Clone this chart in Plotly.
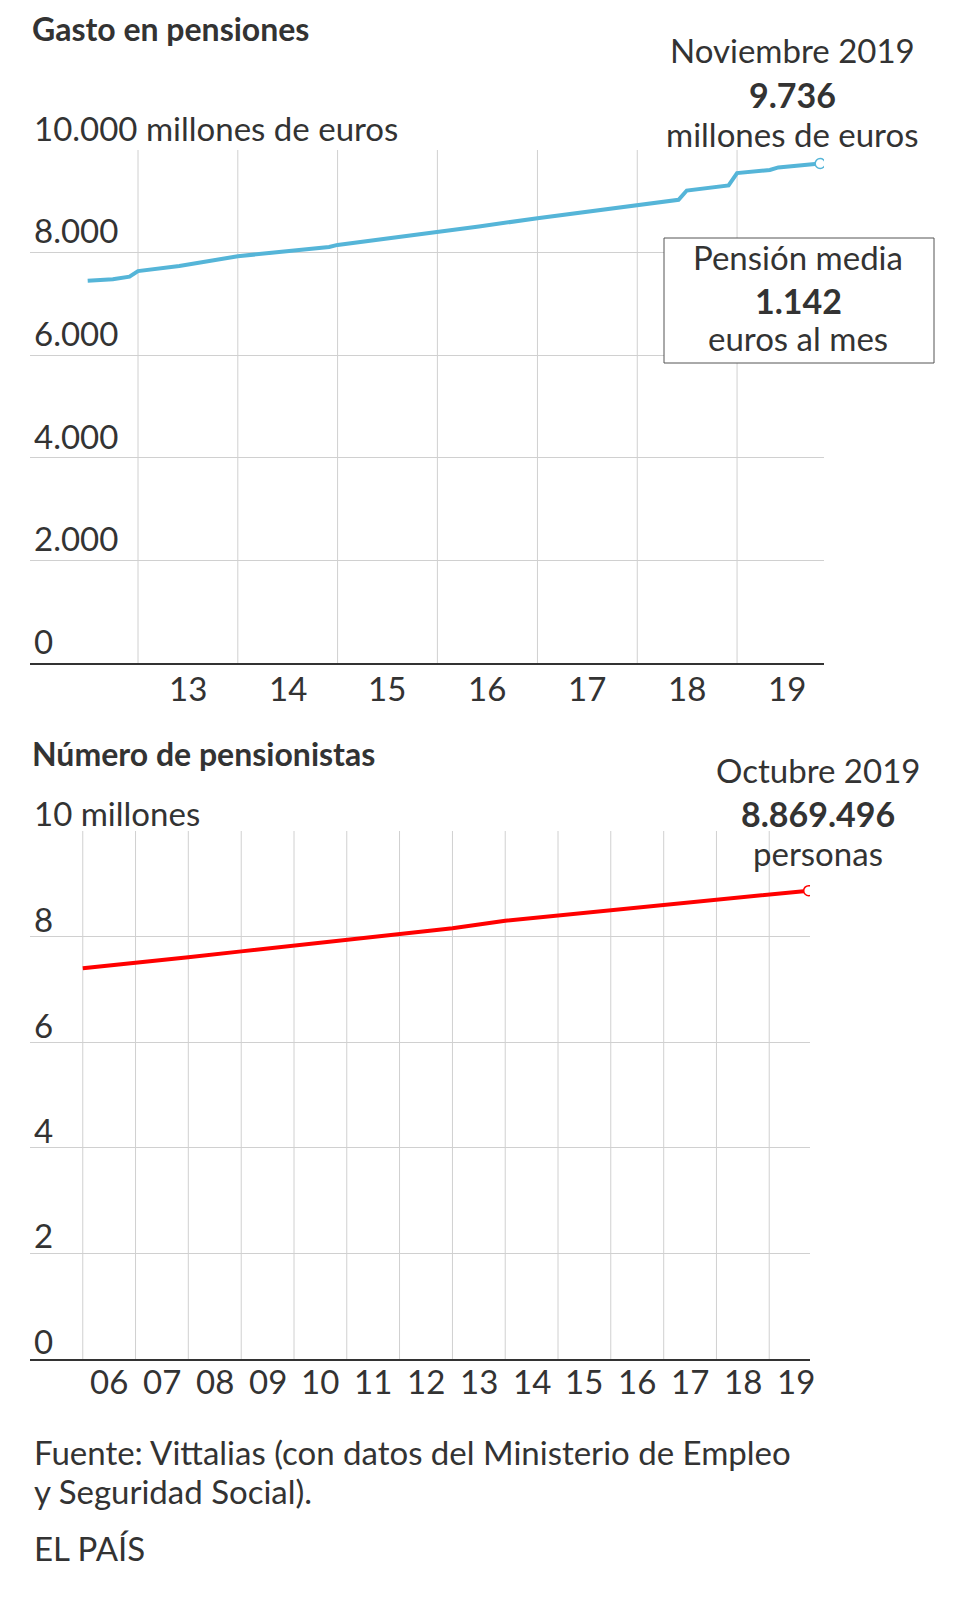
import plotly.graph_objects as go

# Gasto en pensiones (millones de euros)
gasto_fechas = ["2012-07-01","2012-10-01","2012-12-01","2013-01-01","2013-06-01","2014-01-01","2014-06-01",
                "2014-12-01","2015-01-01","2015-06-01","2016-01-01","2016-06-01","2017-01-01","2017-06-01",
                "2018-01-01","2018-06-01","2018-07-01","2018-11-01","2018-12-01","2019-01-01","2019-05-01",
                "2019-06-01","2019-11-01"]
gasto_vals = [7450,7480,7530,7640,7740,7930,8010,8110,8150,8250,8400,8510,8670,8780,
              8930,9030,9210,9300,9310,9550,9610,9660,9736]

# Número de pensionistas (millones)
pens_fechas = ["2006-01-01","2007-01-01","2008-01-01","2009-01-01","2010-01-01","2011-01-01","2012-01-01",
               "2013-01-01","2014-01-01","2015-01-01","2016-01-01","2017-01-01","2018-01-01","2019-01-01","2019-10-01"]
pens_vals = [7.40,7.50,7.61,7.72,7.83,7.95,8.05,8.16,8.30,8.40,8.50,8.61,8.71,8.80,8.87]

top_years = list(range(2013, 2020))
bot_years = list(range(2006, 2020))

W, H = 980, 1615
def fx(x): return x / W
def fy(y): return 1 - y / H

C = "#333333"
F = "Lato"
fig = go.Figure()
fig.add_trace(go.Scatter(x=gasto_fechas, y=gasto_vals, mode="lines", line=dict(color="#55b5d8", width=4),
                         xaxis="x", yaxis="y", hoverinfo="skip"))
fig.add_trace(go.Scatter(x=[gasto_fechas[-1]], y=[gasto_vals[-1]], mode="markers",
                         marker=dict(color="white", size=10, line=dict(color="#55b5d8", width=1.5)),
                         xaxis="x", yaxis="y"))
fig.add_trace(go.Scatter(x=pens_fechas, y=pens_vals, mode="lines", line=dict(color="#ff0000", width=4),
                         xaxis="x2", yaxis="y2", hoverinfo="skip"))
fig.add_trace(go.Scatter(x=[pens_fechas[-1]], y=[pens_vals[-1]], mode="markers",
                         marker=dict(color="white", size=10, line=dict(color="#ff0000", width=1.5)),
                         xaxis="x2", yaxis="y2"))

shapes = []
for yr in top_years:
    shapes.append(dict(type="line", xref="x", yref="y", x0=f"{yr}-01-01", x1=f"{yr}-01-01", y0=0, y1=10000,
                       line=dict(color="#d0d0d0", width=1), layer="below"))
for yr in bot_years:
    shapes.append(dict(type="line", xref="x2", yref="y2", x0=f"{yr}-01-01", x1=f"{yr}-01-01", y0=0, y1=10,
                       line=dict(color="#d0d0d0", width=1), layer="below"))
shapes.append(dict(type="rect", xref="paper", yref="paper", x0=fx(656), x1=fx(926), y0=fy(355), y1=fy(230),
                   line=dict(color="#555", width=1), fillcolor="white"))

ann = []
def A(x, y, t, size=33, bold=False, xa="left", **kw):
    if bold: t = f"<b>{t}</b>"
    d = dict(x=fx(x), y=fy(y), xref="paper", yref="paper", text=t, showarrow=False,
             font=dict(family=F, size=size, color=C), xanchor=xa, yanchor="middle")
    d.update(kw)
    ann.append(d)

A(22, 20, "Gasto en pensiones", 32, True)
A(24, 120, "10.000 millones de euros")
for y, t in [(222, "8.000"), (325, "6.000"), (428, "4.000"), (530, "2.000"), (633, "0")]:
    A(24, y, t)
A(784, 42, "Noviembre 2019", xa="center")
A(784, 87, "9.736", 34, True, xa="center")
A(784, 126, "millones de euros", xa="center")
A(790, 249, "Pensión media", xa="center")
A(790, 293, "1.142", 34, True, xa="center")
A(790, 330, "euros al mes", xa="center")

A(22, 745, "Número de pensionistas", 32, True)
A(24, 805, "10 millones")
for y, t in [(911, "8"), (1017, "6"), (1122, "4"), (1227, "2"), (1333, "0")]:
    A(24, y, t)
A(810, 762, "Octubre 2019", xa="center")
A(810, 806, "8.869.496", 34, True, xa="center")
A(810, 845, "personas", xa="center")

A(24, 1444, "Fuente: Vittalias (con datos del Ministerio de Empleo")
A(24, 1483, "y Seguridad Social).")
A(24, 1540, "EL PAÍS")

for yr in top_years:
    ann.append(dict(x=f"{yr}-07-02", y=fy(680), xref="x", yref="paper", text=str(yr)[2:], showarrow=False,
                    font=dict(family=F, size=33, color=C), xanchor="center", yanchor="middle"))
for yr in bot_years:
    ann.append(dict(x=f"{yr}-07-02", y=fy(1373), xref="x2", yref="paper", text=str(yr)[2:], showarrow=False,
                    font=dict(family=F, size=33, color=C), xanchor="center", yanchor="middle"))

fig.update_layout(
    width=W, height=H, margin=dict(l=0, r=0, t=0, b=0), showlegend=False,
    plot_bgcolor="white", paper_bgcolor="white",
    xaxis=dict(domain=[fx(22), fx(816)], type="date", range=["2011-12-03", "2019-11-15"],
               showgrid=False, showticklabels=False, ticks="", showline=True, linecolor=C, linewidth=2, zeroline=False),
    yaxis=dict(domain=[fy(655), fy(142)], range=[0, 10000], tickvals=[2000, 4000, 6000, 8000, 10000],
               showgrid=True, gridcolor="#d0d0d0", showticklabels=False, zeroline=False),
    xaxis2=dict(domain=[fx(22), fx(802)], type="date", range=["2005-01-01", "2019-10-10"], anchor="y2",
                showgrid=False, showticklabels=False, ticks="", showline=True, linecolor=C, linewidth=2, zeroline=False),
    yaxis2=dict(domain=[fy(1351), fy(823)], range=[0, 10], tickvals=[2, 4, 6, 8, 10], anchor="x2",
                showgrid=True, gridcolor="#d0d0d0", showticklabels=False, zeroline=False),
    shapes=shapes, annotations=ann,
)
fig.write_html("out.html")
